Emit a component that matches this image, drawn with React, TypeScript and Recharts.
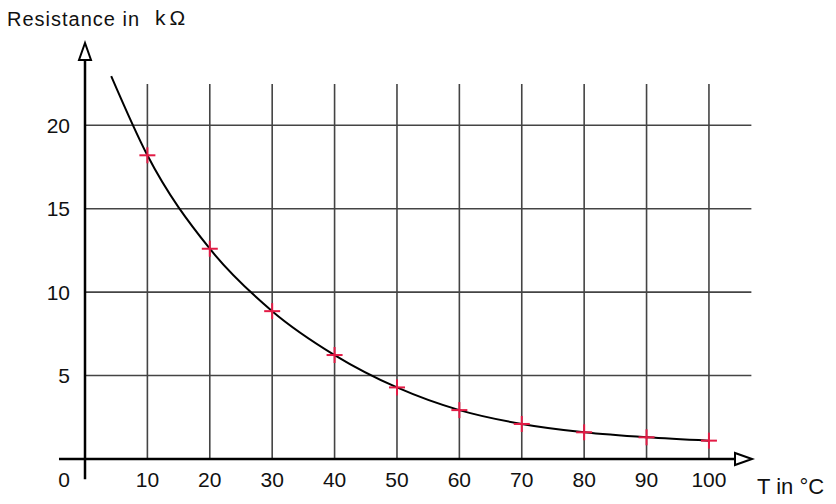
import * as React from "react"
import {
  ComposedChart,
  Line,
  Scatter,
  XAxis,
  YAxis,
  ReferenceLine,
  ReferenceDot,
} from "recharts"

// measured values (T in °C, R in kΩ)
const tempC = [10, 20, 30, 40, 50, 60, 70, 80, 90, 100]
const resistance = [18.2, 12.6, 8.86, 6.23, 4.29, 2.93, 2.1, 1.6, 1.3, 1.1]

// where the drawn curve begins, above the first measurement
const curveStartT = 4.2
const curveStartR = 22.95

const xTicks = [0, 10, 20, 30, 40, 50, 60, 70, 80, 90, 100]
const yTicks = [5, 10, 15, 20]

const X_MAX = 106.9
const Y_MAX = 24.93
const GRID_TOP = 22.47
const GRID_RIGHT = 106.8
const AXIS_X_START = -4.17
const AXIS_Y_START = -1.22

const FONT = "'Liberation Sans', Arial, Helvetica, sans-serif"
const RED = "#e31b45"
const GRID = "#444"

const points = tempC.map((t, i) => ({ t, r: resistance[i] }))
const curve = [{ t: curveStartT, r: curveStartR }, ...points]

function Cross(props: any) {
  const { cx, cy } = props
  if (cx == null || cy == null) return null
  return (
    <g stroke={RED} strokeWidth={2}>
      <line x1={cx - 8} y1={cy} x2={cx + 8} y2={cy} />
      <line x1={cx} y1={cy - 8} x2={cx} y2={cy + 8} />
    </g>
  )
}

function XTick(props: any) {
  const { x, y, payload } = props
  // the origin label sits left of the y axis
  const shift = payload.value === 0 ? -21 : 0
  return (
    <text x={x + shift} y={y} dy="0.71em" textAnchor="middle" fontSize={21} fontFamily={FONT} fill="#111">
      {payload.value}
    </text>
  )
}

function ArrowRight(props: any) {
  const { cx, cy } = props
  return (
    <polygon
      points={`${cx},${cy} ${cx - 17},${cy - 6} ${cx - 17},${cy + 6}`}
      fill="#fff"
      stroke="#000"
      strokeWidth={2}
    />
  )
}

function ArrowUp(props: any) {
  const { cx, cy } = props
  return (
    <polygon
      points={`${cx},${cy} ${cx - 6},${cy + 17} ${cx + 6},${cy + 17}`}
      fill="#fff"
      stroke="#000"
      strokeWidth={2}
    />
  )
}

export default function App() {
  return (
    <div style={{ position: "relative", width: 836, height: 504, background: "#fff", fontFamily: FONT }}>
      <style>{`body{margin:0}`}</style>
      <span
        style={{ position: "absolute", left: 7, top: 9, fontSize: 20, lineHeight: "20px", color: "#111", letterSpacing: 1, whiteSpace: "pre" }}
      >
        Resistance in
      </span>
      <span style={{ position: "absolute", left: 155, top: 8, fontSize: 21, lineHeight: "20px", color: "#111", letterSpacing: 4 }}>
        kΩ
      </span>
      <span style={{ position: "absolute", left: 757, top: 474, fontSize: 22, color: "#111" }}>T in °C</span>

      <ComposedChart
        width={836}
        height={504}
        margin={{ top: 43, right: 84, bottom: 0, left: 0 }}
        style={{ position: "absolute", left: 0, top: 0 }}
      >
        <XAxis
          dataKey="t"
          type="number"
          domain={[0, X_MAX]}
          ticks={xTicks}
          axisLine={false}
          tickLine={false}
          tickSize={0}
          tickMargin={13}
          height={45}
          tick={<XTick />}
        />
        <YAxis
          type="number"
          domain={[0, Y_MAX]}
          ticks={yTicks}
          axisLine={false}
          tickLine={false}
          tickSize={0}
          tickMargin={15}
          width={85}
          tick={{ fontSize: 21, fontFamily: FONT, fill: "#111" }}
        />

        {yTicks.map((r) => (
          <ReferenceLine
            key={`h${r}`}
            segment={[{ x: 0, y: r }, { x: GRID_RIGHT, y: r }]}
            stroke={GRID}
            strokeWidth={1.6}
            ifOverflow="visible"
          />
        ))}
        {tempC.map((t) => (
          <ReferenceLine
            key={`v${t}`}
            segment={[{ x: t, y: 0 }, { x: t, y: GRID_TOP }]}
            stroke={GRID}
            strokeWidth={1.6}
            ifOverflow="visible"
          />
        ))}

        <ReferenceLine
          segment={[{ x: AXIS_X_START, y: 0 }, { x: X_MAX - 1, y: 0 }]}
          stroke="#000"
          strokeWidth={2.5}
          ifOverflow="visible"
        />
        <ReferenceLine
          segment={[{ x: 0, y: AXIS_Y_START }, { x: 0, y: Y_MAX - 0.5 }]}
          stroke="#000"
          strokeWidth={2.5}
          ifOverflow="visible"
        />
        <ReferenceDot x={X_MAX} y={0} shape={<ArrowRight />} ifOverflow="visible" />
        <ReferenceDot x={0} y={Y_MAX} shape={<ArrowUp />} ifOverflow="visible" />

        <Line
          data={curve}
          dataKey="r"
          type="monotone"
          stroke="#000"
          strokeWidth={2}
          dot={false}
          activeDot={false}
          isAnimationActive={false}
        />
        <Scatter data={points} dataKey="r" shape={<Cross />} isAnimationActive={false} />
      </ComposedChart>
    </div>
  )
}
